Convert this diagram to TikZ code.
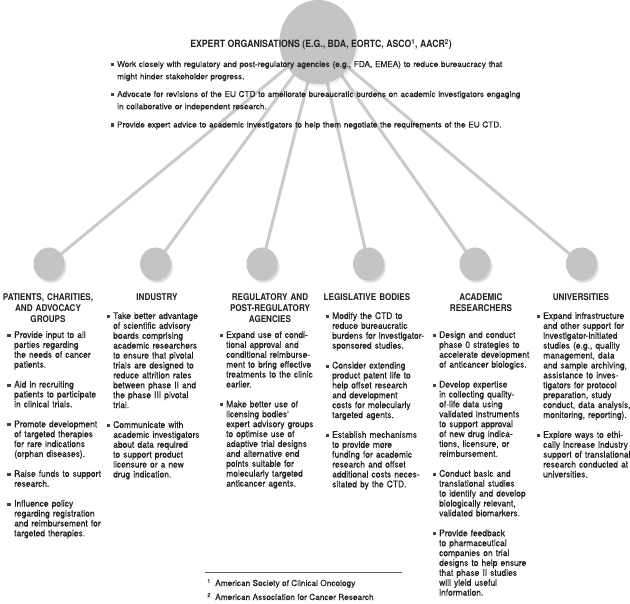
\documentclass[tikz,border=0pt]{standalone}
\usepackage{fontspec}
\setmainfont{TeX Gyre Heros}[FakeBold=0.3]
\newfontfamily\colfam{TeX Gyre Heros}[FakeStretch=0.92, FakeBold=0.3]
\newfontfamily\headfam{TeX Gyre Heros}[FakeStretch=0.87]
\usetikzlibrary{shapes.geometric,shadows,backgrounds}
\definecolor{dotgray}{HTML}{C4C4C4}
\definecolor{spokegray}{HTML}{CACACA}
\definecolor{inkgray}{HTML}{231F20}
\newcommand{\itemsq}{\llap{\textcolor{inkgray!85}{\rule[0.9pt]{3.1pt}{3.1pt}}\hspace{3.6pt}}}
\tikzset{
    hubdot/.style={ellipse, fill=dotgray, minimum width=77pt, minimum height=84pt, inner sep=0pt,
        circular drop shadow={shadow xshift=1.5pt, shadow yshift=-2pt, shadow scale=1.03, opacity=0.3}},
    stakedot/.style={ellipse, fill=dotgray, minimum width=31pt, minimum height=33pt, inner sep=0pt,
        circular drop shadow={shadow xshift=1.5pt, shadow yshift=-2pt, shadow scale=1.05, opacity=0.3}},
    spoke/.style={draw=spokegray, line width=3pt},
    hubtitle/.style={anchor=base, inner sep=0pt, text=inkgray, font=\headfam\bfseries\fontsize{10}{12}\selectfont},
    hubitem/.style={anchor=base west, inner sep=0pt, text width=430pt, align=left, text=inkgray,
        font=\fontsize{8.2}{12.3}\selectfont},
    colhead/.style={anchor=base, inner sep=0pt, text width=110pt, align=center, text=inkgray,
        font=\headfam\bfseries\fontsize{9.3}{11}\selectfont},
    colitem/.style={anchor=base west, inner sep=0pt, text width=100pt, align=left, text=inkgray,
        font=\colfam\fontsize{9.2}{9.9}\selectfont},
    fnote/.style={anchor=base west, inner sep=0pt, text=inkgray, font=\fontsize{8.3}{9}\selectfont}
}

\begin{document}
\begin{tikzpicture}[x=1pt, y=-1pt]
\useasboundingbox (0,0) rectangle (630,604);

% hub and stakeholders
\node[hubdot] (hub) at (318,42) {};
\node[stakedot] (pat) at (49,264) {};
\node[stakedot] (ind) at (155.5,264) {};
\node[stakedot] (reg) at (262,264) {};
\node[stakedot] (leg) at (368.5,264) {};
\node[stakedot] (aca) at (475,264) {};
\node[stakedot] (uni) at (581.5,264) {};

\begin{scope}[on background layer]
\fill[white] (0,0) rectangle (630,604);
\draw[spoke] (hub.center) -- (pat.center);
\draw[spoke] (hub.center) -- (ind.center);
\draw[spoke] (hub.center) -- (reg.center);
\draw[spoke] (hub.center) -- (leg.center);
\draw[spoke] (hub.center) -- (aca.center);
\draw[spoke] (hub.center) -- (uni.center);
\end{scope}

% expert organisations
\node[hubtitle] (expT) at (321,48) {EXPERT ORGANISATIONS (E.G., BDA, EORTC, ASCO\textsuperscript{1}, AACR\textsuperscript{2})};
\node[hubitem] (exp1) at (117,67) {\itemsq Work closely with regulatory and post-regulatory agencies (e.g., FDA, EMEA) to reduce bureaucracy that\\might hinder stakeholder progress.};
\node[hubitem] (exp2) at (117,97) {\itemsq Advocate for revisions of the EU CTD to ameliorate bureaucratic burdens on academic investigators engaging\\in collaborative or independent research.};
\node[hubitem] (exp3) at (117,127.5) {\itemsq Provide expert advice to academic investigators to help them negotiate the requirements of the EU CTD.};

% patients
\node[colhead] (patT) at (48,301) {PATIENTS, CHARITIES,\\AND ADVOCACY\\GROUPS};
\node[colitem] (pat1) at (14,338) {\itemsq Provide input to all\\parties regarding\\the needs of cancer\\patients.};
\node[colitem] (pat2) at (14,387.6) {\itemsq Aid in recruiting\\patients to participate\\in clinical trials.};
\node[colitem] (pat3) at (14,427.3) {\itemsq Promote development\\of targeted therapies\\for rare indications\\(orphan diseases).};
\node[colitem] (pat4) at (14,476.9) {\itemsq Raise funds to support\\research.};
\node[colitem] (pat5) at (14,506.7) {\itemsq Influence policy\\regarding registration\\and reimbursement for\\targeted therapies.};

% industry
\node[colhead] (indT) at (157,301) {INDUSTRY};
\node[colitem] (ind1) at (113,319) {\itemsq Take better advantage\\of scientific advisory\\boards comprising\\academic researchers\\to ensure that pivotal\\trials are designed to\\reduce attrition rates\\between phase II and\\the phase III pivotal\\trial.};
\node[colitem] (ind2) at (113,428) {\itemsq Communicate with\\academic investigators\\about data required\\to support product\\licensure or a new\\drug indication.};

% regulatory
\node[colhead] (regT) at (270,301) {REGULATORY AND\\POST-REGULATORY\\AGENCIES};
\node[colitem] (reg1) at (226,338) {\itemsq Expand use of condi-\\tional approval and\\conditional reimburse-\\ment to bring effective\\treatments to the clinic\\earlier.};
\node[colitem] (reg2) at (226,407.4) {\itemsq Make better use of\\licensing bodies'\\expert advisory groups\\to optimise use of\\adaptive trial designs\\and alternative end\\points suitable for\\molecularly targeted\\anticancer agents.};

% legislative
\node[colhead] (legT) at (367,301) {LEGISLATIVE BODIES};
\node[colitem] (leg1) at (332,319) {\itemsq Modify the CTD to\\reduce bureaucratic\\burdens for investigator-\\sponsored studies.};
\node[colitem] (leg2) at (332,368.6) {\itemsq Consider extending\\product patent life to\\help offset research\\and development\\costs for molecularly\\targeted agents.};
\node[colitem] (leg3) at (332,437.9) {\itemsq Establish mechanisms\\to provide more\\funding for academic\\research and offset\\additional costs neces-\\sitated by the CTD.};

% academic
\node[colhead] (acaT) at (481,301) {ACADEMIC\\RESEARCHERS};
\node[colitem] (aca1) at (439,338) {\itemsq Design and conduct\\phase 0 strategies to\\accelerate development\\of anticancer biologics.};
\node[colitem] (aca2) at (439,387.6) {\itemsq Develop expertise\\in collecting quality-\\of-life data using\\validated instruments\\to support approval\\of new drug indica-\\tions, licensure, or\\reimbursement.};
\node[colitem] (aca3) at (439,476.8) {\itemsq Conduct basic and\\translational studies\\to identify and develop\\biologically relevant,\\validated biomarkers.};
\node[colitem] (aca4) at (439,536.3) {\itemsq Provide feedback\\to pharmaceutical\\companies on trial\\designs to help ensure\\that phase II studies\\will yield useful\\information.};

% universities
\node[colhead] (uniT) at (581,301) {UNIVERSITIES};
\node[colitem] (uni1) at (543,319) {\itemsq Expand infrastructure\\and other support for\\investigator-initiated\\studies (e.g., quality\\management, data\\and sample archiving,\\assistance to inves-\\tigators for protocol\\preparation, study\\conduct, data analysis,\\monitoring, reporting).};
\node[colitem] (uni2) at (543,437.9) {\itemsq Explore ways to ethi-\\cally increase industry\\support of translational\\research conducted at\\universities.};

% footnotes
\draw[inkgray!70, line width=0.6pt] (205,572) -- (402,572);
\node[fnote] (fn1) at (207,586) {\makebox[8pt][l]{\textsuperscript{1}}American Society of Clinical Oncology};
\node[fnote] (fn2) at (207,600) {\makebox[8pt][l]{\textsuperscript{2}}American Association for Cancer Research};
\end{tikzpicture}
\end{document}
